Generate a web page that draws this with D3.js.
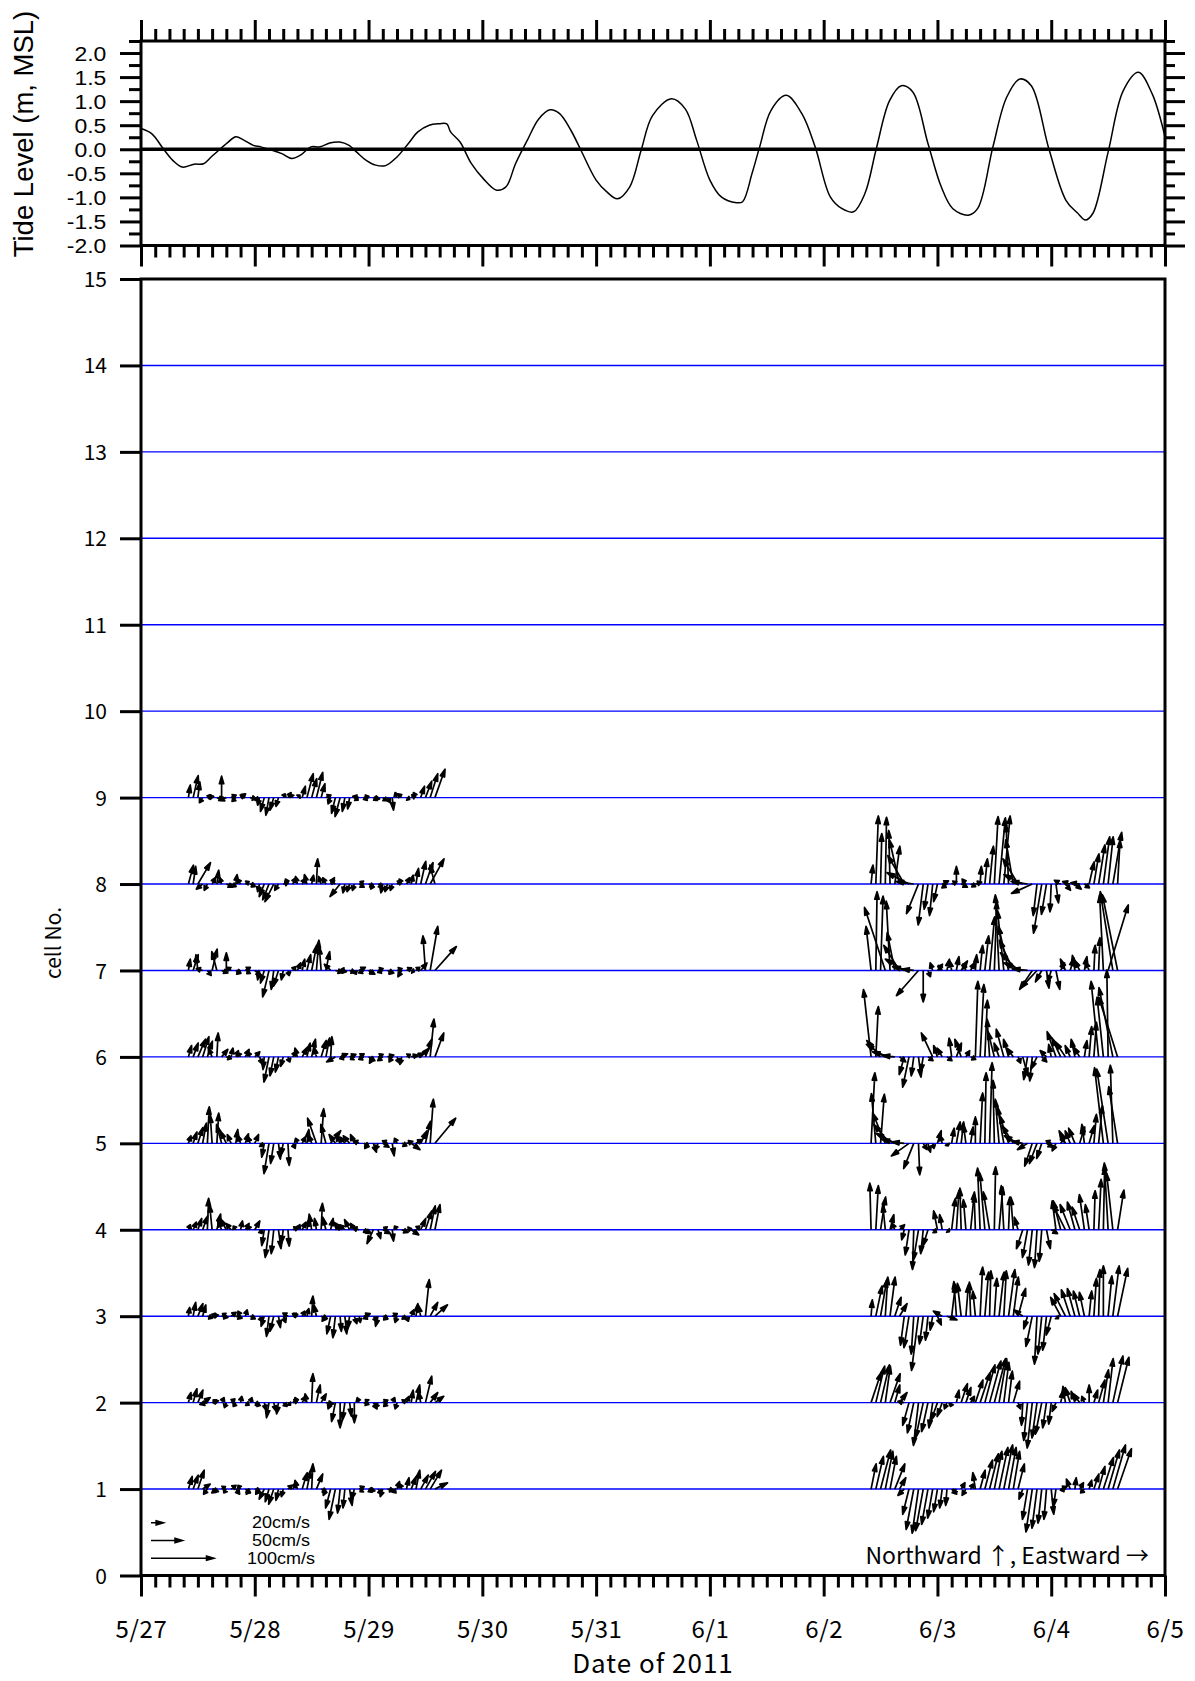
<!DOCTYPE html>
<html>
<head>
<meta charset="utf-8">
<script src="https://cdn.jsdelivr.net/npm/d3@7"></script>
<style>
  body { margin: 0; background: #fff; }
  .jp { font-family: "Noto Sans CJK JP", "Noto Sans", sans-serif; }
  .sans { font-family: "Liberation Sans", Arial, sans-serif; }
</style>
</head>
<body>
<svg id="chart" width="1195" height="1681"></svg>
<script>
// tide record: hours after 5/27 00:00 and level (m, MSL)
var tideHours = [0, 2.3, 4.7, 6.7, 8.7, 11.2, 13.2, 14.8, 16.4, 18.4, 20.0, 21.7, 23.7, 25.3, 27.3, 29.7,
  31.8, 33.8, 35.8, 37.8, 39.8, 41.9, 43.9, 45.5, 47.5, 49.5, 51.6, 54.0, 56.4, 58.4, 60.8, 62.9, 64.5,
  65.3, 67.3, 69.7, 72.2, 75.0, 77.0, 79.0, 81.5, 83.9, 86.3, 88.3, 90.7, 92.8, 96.0,
  98.2, 100.5, 103.1, 105.5, 107.9, 111.9, 114.8, 117.2, 120, 122.4, 125.6, 126.9, 128.9, 130.5, 132.9,
  136.1, 139.4, 142.2, 145.4, 147.8, 150.3, 152.7, 155.1, 157.9, 160.4, 162.8, 166.0, 168.8, 171.2,
  174.5, 176.5, 179.7, 182.6, 185.4, 187.8, 191.5, 195.1, 197.5, 199.2, 200.8, 204, 207.2, 210.4, 213.3, 216];
var tideLevels = [0.43, 0.32, 0.01, -0.23, -0.37, -0.31, -0.30, -0.16, -0.02, 0.15, 0.26, 0.19, 0.08, 0.05, -0.01, -0.09,
  -0.19, -0.11, 0.05, 0.05, 0.13, 0.15, 0.08, -0.06, -0.23, -0.33, -0.34, -0.16, 0.12, 0.36, 0.50, 0.53, 0.53,
  0.36, 0.15, -0.30, -0.61, -0.85, -0.78, -0.30, 0.19, 0.63, 0.82, 0.74, 0.39, -0.02, -0.64,
  -0.88, -1.03, -0.78, -0.02, 0.70, 1.05, 0.84, 0.19, -0.64, -0.99, -1.11, -1.09, -0.50, 0.05, 0.81,
  1.12, 0.74, 0.05, -0.99, -1.23, -1.30, -0.92, 0.01, 1.01, 1.32, 1.19, 0.12, -0.78, -1.23,
  -1.37, -1.23, 0.05, 1.08, 1.46, 1.32, 0.01, -1.06, -1.32, -1.47, -1.33, -0.06, 1.22, 1.60, 1.15, 0.26];

// hourly current vectors (cm/s), first survey from 5/27 10:00, second from 6/2 10:00
var firstStart = Date.UTC(2011, 4, 27, 10);
var secondStart = Date.UTC(2011, 5, 2, 10);

var eastA9 = [3,8,3,-5,10,-8,10,0,-10,8,-6,8,-8,10,6,-3,-6,-5,-6,-4,3,5,-3,4,5,10,8,10,6,8,-4,-6,-8,-4,-3,6,-10,8,-8,10,-7,6,4,2,-3,-6,5,6,-4,6,10,12,16];
var northA9 = [20,35,25,-8,2,3,-3,34,-5,4,-6,6,4,-2,-4,-12,-22,-28,-20,-14,6,8,5,4,18,38,30,40,22,4,-10,-25,-30,-22,-18,-4,2,2,-3,-2,-4,-5,-8,-20,8,6,-3,3,8,18,26,38,45];
var eastA8 = [8,4,20,-10,-5,5,3,-3,10,8,2,-5,6,8,-5,-3,-8,-10,-14,-6,8,-4,5,-3,4,-4,3,2,-4,-5,6,-8,-16,-3,-4,-3,8,-6,8,-4,6,-3,-4,-3,6,-4,5,3,4,8,12,22,-8];
var northA8 = [30,28,34,-8,-10,10,22,10,-5,-4,15,8,4,-3,-4,-12,-20,-25,-28,-10,2,8,10,12,8,15,14,40,12,10,10,6,-20,-14,-12,-10,-5,4,-4,-8,-4,-14,-12,-10,4,8,10,14,25,36,34,40,30];
var eastA7 = [3,8,-3,-10,6,8,-8,10,0,-6,8,-6,8,-5,10,-3,-6,-10,-4,-8,-3,2,4,5,4,6,8,4,-3,6,-10,12,10,-6,8,3,10,-8,10,-6,8,-8,10,-5,8,-6,8,5,6,10,-4,12,34];
var northA7 = [18,25,25,3,-8,34,30,-4,28,5,-4,-6,5,-5,-8,-15,-20,-42,-30,-25,-15,-8,6,12,18,25,40,48,38,30,10,-3,-2,2,-3,-6,5,-4,-6,-5,3,-3,-4,-6,3,-10,4,-2,5,12,55,70,38];
var eastA6 = [5,8,12,10,8,-6,2,10,8,3,4,-4,6,-3,8,5,-2,-8,-6,-5,-4,3,5,-4,8,5,6,-3,8,6,2,-14,12,-8,10,-6,8,-8,10,-6,8,-8,10,-5,4,-3,6,10,12,14,10,6,14];
var northA6 = [18,22,28,32,25,14,38,12,-3,14,10,6,12,8,8,-12,-20,-40,-30,-24,-15,-8,8,14,15,22,28,14,26,30,32,-8,5,-3,4,-4,5,-4,-6,-10,4,-6,3,-8,-10,-12,4,3,6,14,28,60,38];
var eastA5 = [4,6,8,6,3,-3,3,-8,-10,-6,3,-4,5,-3,6,6,-4,-8,-5,3,-4,2,4,-3,5,3,-4,-14,4,-8,16,-10,-6,-8,-10,-6,-8,8,-6,5,-4,10,-8,3,-4,8,10,14,10,10,8,5,33];
var northA5 = [12,18,25,32,58,45,48,30,20,14,22,12,15,10,14,-5,-22,-48,-32,-25,-20,-35,-8,8,10,22,12,40,55,30,20,14,12,10,12,14,4,-5,-8,-14,-10,-6,4,-20,8,-4,3,-10,6,20,35,70,40];
var eastA4 = [3,5,6,8,2,-4,6,-6,-10,-8,-4,3,6,-3,8,4,-4,-6,-4,4,-3,2,8,4,6,3,-4,-3,2,-5,4,10,-10,-8,-8,-6,-10,12,-8,-10,4,12,-6,2,-4,10,8,12,6,8,10,8,8];
var northA4 = [8,12,18,22,50,40,25,14,18,10,6,14,10,6,14,-6,-25,-44,-38,-30,-22,-26,4,8,12,16,25,18,42,20,18,6,12,8,16,10,3,-6,-4,-22,-14,-6,4,-18,6,-4,2,-8,6,18,30,38,40];
var eastA3 = [2,4,8,5,8,10,-8,10,-6,8,10,-4,3,8,-4,4,-5,-4,-6,3,4,-8,8,-8,4,3,2,-4,10,-6,-6,-4,2,3,-3,4,2,10,-8,6,-4,8,-6,8,-3,6,3,4,3,-4,6,12,20];
var northA3 = [14,22,20,18,-3,2,3,-2,4,6,-3,8,10,-4,-3,-8,-16,-32,-24,-18,-10,5,3,4,8,12,32,18,-4,-8,-28,-34,-24,-28,-20,-12,-10,4,-4,-8,-16,-4,-6,4,-10,-4,-8,10,20,18,58,22,18];
var eastA2 = [4,6,8,12,-12,10,-6,4,-3,6,-4,2,6,3,6,-4,3,-4,4,-3,6,4,8,-4,5,-3,2,6,8,12,-4,-6,0,-4,3,0,-3,8,-5,6,-4,8,-6,4,-3,6,4,3,6,-3,10,12,14];
var northA2 = [16,22,20,8,-3,3,4,8,-8,6,-6,10,-4,8,-3,-6,-12,-24,-14,-18,-6,-4,4,8,10,14,46,28,14,-2,-10,-30,-40,-28,-22,-32,8,-3,5,-10,-8,4,-6,8,-10,4,10,20,28,16,42,16,10];
var eastA1 = [6,8,10,12,-6,10,-8,6,-4,8,6,-4,8,-6,8,-6,-8,-6,-8,-4,-3,6,6,-4,8,6,2,10,8,-4,-8,-10,-4,-3,4,-4,8,-6,10,-8,6,-4,10,6,4,-3,4,8,6,12,16,18,20];
var northA1 = [20,22,30,8,-8,-4,-6,4,-6,6,-8,6,-6,-8,-3,-8,-16,-20,-24,-18,-12,6,10,14,26,30,40,24,-4,-10,-30,-48,-38,-30,-26,-16,4,-4,-3,-4,-8,-12,-3,-6,12,8,18,20,30,22,28,30,10];

var eastB8 = [3,4,2,2,-2,8,-16,-26,-35,-28,-19,-8,-6,-5,-6,10,-8,8,0,10,-6,8,10,2,4,6,6,10,10,-4,-12,-24,-30,-26,-33,-6,-13,-8,-2,4,-10,8,-12,10,-14,8,8,8,10,10,8,14,4];
var northB8 = [30,108,80,106,85,60,70,45,18,4,-47,-65,-40,-50,-28,5,-6,4,28,-5,8,-4,3,28,40,60,107,105,108,95,70,40,15,4,-15,-50,-78,-48,-44,-30,6,-10,4,-8,2,-6,35,48,62,75,75,82,70];
var eastB7 = [-8,2,4,-33,-6,-12,-25,-30,-26,-18,-35,0,4,-4,8,-6,4,-3,4,10,-5,6,2,4,6,8,4,-6,-10,-16,-22,-28,-30,-24,-20,-26,-10,4,-6,6,6,-8,6,-4,-8,4,-6,2,2,-6,32,-20,-24];
var northB7 = [70,125,118,100,110,60,40,18,6,2,-40,-50,-10,12,10,8,18,15,22,15,10,12,25,40,55,85,110,120,95,70,48,28,12,3,-30,-28,-18,-28,-20,-30,12,18,20,24,16,22,14,40,52,120,104,125,120];
var eastB6 = [-12,4,-22,-30,-28,-20,10,-8,-10,-4,4,-4,8,-18,-6,-8,8,-4,8,-10,6,8,4,6,4,-4,-10,-8,-12,-8,-10,4,8,-6,-4,-10,8,-10,-4,-14,-14,-16,-8,-6,-10,4,4,4,-12,-10,-2,-22,-30];
var northB6 = [107,80,26,20,8,2,-8,-28,-48,-30,-32,-24,-6,38,18,14,-6,30,22,28,10,-4,120,115,90,60,40,22,44,28,14,-10,-30,-36,-38,-20,-8,10,20,40,30,24,18,28,16,26,48,55,120,95,138,110,95];
var eastB5 = [6,-7,6,-20,-26,-30,-28,-20,-28,-16,2,6,4,2,6,-3,2,4,6,4,-4,4,0,4,2,4,-2,-6,-10,-14,-18,-22,-16,-16,-12,-12,-8,10,-8,-6,6,-10,-8,-10,8,-4,8,4,6,-14,-18,-4,-14];
var northB5 = [112,79,78,48,30,16,6,2,-20,-40,-50,-10,-14,-8,20,12,-4,24,34,34,30,26,42,80,112,128,100,70,58,44,28,12,3,-10,-36,-32,-24,-6,4,-12,10,20,20,24,26,30,28,46,60,120,118,124,90];
var eastB4 = [-2,4,8,-4,6,-4,8,-4,-6,-2,-8,-4,-8,6,-6,-4,4,6,4,-2,-4,6,-2,-4,-8,-10,2,6,-4,2,-4,-6,-10,-8,-6,-4,-4,6,10,-6,-12,-20,-16,-12,-12,-8,-6,2,4,2,-6,-10,10];
var northB4 = [74,70,52,40,24,10,8,-16,-40,-63,-48,-38,-26,-4,30,24,-3,50,62,66,48,60,56,98,90,60,100,68,70,52,52,20,-30,-44,-56,-60,-50,-30,-6,46,46,40,40,44,36,56,40,62,80,100,106,90,63];
var eastB3 = [2,10,10,4,8,10,12,-6,-8,-4,-11,-6,-4,-4,6,-14,16,6,-4,-6,4,-2,-4,4,6,2,4,8,4,10,8,12,-14,-6,-10,-4,-6,-6,-8,4,-16,-18,-14,-12,-10,-8,4,4,2,0,6,10,16];
var northB3 = [26,48,58,62,62,30,20,-46,-50,-60,-86,-44,-38,-22,-14,8,-6,50,55,52,50,54,40,78,70,72,60,70,72,74,62,44,10,-20,-48,-76,-60,-54,-30,-4,30,36,42,44,40,38,40,60,74,80,64,80,76];
var eastB2 = [16,14,14,8,16,8,12,-10,-10,-10,-8,-12,-10,-6,-10,-8,-4,-2,4,10,8,6,12,16,16,18,18,12,8,6,10,4,-2,-6,-8,-8,-10,-6,-4,-6,4,-4,-8,-6,-10,-4,0,6,10,8,8,16,18];
var northB2 = [48,58,60,58,46,28,16,2,-36,-48,-68,-56,-46,-40,-28,-22,-10,-6,20,30,24,10,36,48,60,66,70,70,64,50,34,-10,-36,-60,-72,-56,-50,-40,-34,-14,20,26,24,18,14,10,28,20,36,52,70,74,72];
var eastB1 = [8,12,16,12,10,16,10,-10,-10,-12,-10,-12,-10,-8,-6,-4,-2,8,-4,6,-6,4,-4,8,12,14,12,14,14,12,10,10,-6,-8,-10,-8,-6,-4,4,-4,10,-8,-6,2,6,-6,4,8,10,16,18,20,22];
var northB1 = [40,52,62,60,52,40,18,-10,-40,-64,-70,-66,-56,-46,-36,-30,-26,-8,-6,10,-10,8,26,30,46,56,60,66,70,66,60,40,-16,-48,-68,-62,-54,-48,-40,-28,4,-2,16,18,10,-6,14,24,36,50,62,70,64];

var legendSpeeds = [20, 50, 100];
var dayLabels = ['5/27', '5/28', '5/29', '5/30', '5/31', '6/1', '6/2', '6/3', '6/4', '6/5'];

var series = [
  {start: firstStart, cell: 9, east: eastA9, north: northA9},
  {start: firstStart, cell: 8, east: eastA8, north: northA8},
  {start: firstStart, cell: 7, east: eastA7, north: northA7},
  {start: firstStart, cell: 6, east: eastA6, north: northA6},
  {start: firstStart, cell: 5, east: eastA5, north: northA5},
  {start: firstStart, cell: 4, east: eastA4, north: northA4},
  {start: firstStart, cell: 3, east: eastA3, north: northA3},
  {start: firstStart, cell: 2, east: eastA2, north: northA2},
  {start: firstStart, cell: 1, east: eastA1, north: northA1},
  {start: secondStart, cell: 8, east: eastB8, north: northB8},
  {start: secondStart, cell: 7, east: eastB7, north: northB7},
  {start: secondStart, cell: 6, east: eastB6, north: northB6},
  {start: secondStart, cell: 5, east: eastB5, north: northB5},
  {start: secondStart, cell: 4, east: eastB4, north: northB4},
  {start: secondStart, cell: 3, east: eastB3, north: northB3},
  {start: secondStart, cell: 2, east: eastB2, north: northB2},
  {start: secondStart, cell: 1, east: eastB1, north: northB1}
];

var HOUR = 3600 * 1000;
var t0 = new Date(Date.UTC(2011, 4, 27));
var t1 = new Date(Date.UTC(2011, 5, 5));

var left = 141, right = 1165;
var tideTop = 41, tideBottom = 245.5;
var cellTop = 279, cellBottom = 1575.5;

var x = d3.scaleUtc().domain([t0, t1]).range([left, right]);
var yTide = d3.scaleLinear().domain([-2, 2.25]).range([tideBottom, tideTop]);
var yCell = d3.scaleLinear().domain([0, 15]).range([cellBottom, cellTop]);
var speed = d3.scaleLinear().domain([0, 100]).range([0, 63]);

var svg = d3.select('#chart');

var days = d3.utcDay.range(t0, new Date(+t1 + 1));
var threeHours = d3.utcHour.every(3).range(t0, new Date(+t1 + 1))
  .filter(function(d) { return d.getUTCHours() !== 0; });

function styleAxis(g) {
  g.select('.domain').remove();
  g.selectAll('.tick line').attr('stroke', '#000').attr('stroke-width', 3);
  return g;
}

function tickRow(axisFn, scale, values, size, at, isX) {
  var g = svg.append('g')
    .attr('transform', isX ? 'translate(0,' + at + ')' : 'translate(' + at + ',0)')
    .call(axisFn(scale).tickValues(values).tickSize(size).tickSizeOuter(0).tickFormat(''));
  return styleAxis(g);
}

// ---- tide panel ----
tickRow(d3.axisTop, x, threeHours, 12, tideTop, true);
tickRow(d3.axisTop, x, days, 21, tideTop, true);
tickRow(d3.axisBottom, x, threeHours, 12, tideBottom, true);
tickRow(d3.axisBottom, x, days, 21, tideBottom, true);

var tideMajor = d3.range(-2, 2.01, 0.5);
var tideMinor = d3.range(-1.75, 2.26, 0.5);
tickRow(d3.axisLeft, yTide, tideMinor, 12, left, false);
tickRow(d3.axisRight, yTide, tideMinor, 10, right, false);
tickRow(d3.axisRight, yTide, tideMajor, 20, right, false);

var tideLeft = svg.append('g')
  .attr('transform', 'translate(' + left + ',0)')
  .call(d3.axisLeft(yTide).tickValues(tideMajor).tickSize(21).tickSizeOuter(0).tickPadding(10)
    .tickFormat(function(d) { return d.toFixed(1); }));
styleAxis(tideLeft);
tideLeft.selectAll('.tick text')
  .attr('class', 'sans')
  .attr('font-size', 20.5)
  .attr('dy', '0.36em')
  .attr('transform', 'scale(1.12,1)')
  .attr('fill', '#000');

svg.append('path')
  .datum(tideHours)
  .attr('fill', 'none')
  .attr('stroke', '#000')
  .attr('stroke-width', 1.5)
  .attr('d', d3.line()
    .x(function(h) { return x(new Date(+t0 + h * HOUR)); })
    .y(function(h, i) { return yTide(tideLevels[i]); })
    .curve(d3.curveCatmullRom.alpha(0.5)));

svg.append('line')
  .attr('x1', left).attr('x2', right)
  .attr('y1', yTide(0)).attr('y2', yTide(0))
  .attr('stroke', '#000').attr('stroke-width', 3.5);

svg.append('rect')
  .attr('x', left).attr('y', tideTop)
  .attr('width', right - left).attr('height', tideBottom - tideTop)
  .attr('fill', 'none').attr('stroke', '#000').attr('stroke-width', 3);

svg.append('text')
  .attr('class', 'sans')
  .attr('font-size', 27.5)
  .attr('text-anchor', 'middle')
  .attr('transform', 'translate(33,134) rotate(-90)')
  .text('Tide Level (m, MSL)');

// ---- cell panel ----
var cellNums = d3.range(0, 16);

svg.append('g').selectAll('line')
  .data(d3.range(1, 15))
  .enter().append('line')
  .attr('x1', left).attr('x2', right)
  .attr('y1', function(d) { return yCell(d); })
  .attr('y2', function(d) { return yCell(d); })
  .attr('stroke', '#0000ff')
  .attr('stroke-width', 1.4);

var cellLeft = svg.append('g')
  .attr('transform', 'translate(' + left + ',0)')
  .call(d3.axisLeft(yCell).tickValues(cellNums).tickSize(21).tickSizeOuter(0).tickPadding(13)
    .tickFormat(d3.format('d')));
styleAxis(cellLeft);
cellLeft.selectAll('.tick text')
  .attr('class', 'jp')
  .attr('font-size', 21)
  .attr('dy', '0.36em')
  .attr('fill', '#000');

tickRow(d3.axisBottom, x, threeHours, 12, cellBottom, true);
var dateAxis = svg.append('g')
  .attr('transform', 'translate(0,' + cellBottom + ')')
  .call(d3.axisBottom(x).tickValues(days).tickSize(21).tickSizeOuter(0).tickPadding(24)
    .tickFormat(function(d, i) { return dayLabels[i]; }));
styleAxis(dateAxis);
dateAxis.selectAll('.tick text')
  .attr('class', 'jp')
  .attr('font-size', 24)
  .attr('letter-spacing', 0.6)
  .attr('fill', '#000');

svg.append('rect')
  .attr('x', left).attr('y', cellTop)
  .attr('width', right - left).attr('height', cellBottom - cellTop)
  .attr('fill', 'none').attr('stroke', '#000').attr('stroke-width', 3);

svg.append('text')
  .attr('class', 'jp')
  .attr('font-size', 21)
  .attr('text-anchor', 'middle')
  .attr('transform', 'translate(61,943) rotate(-90)')
  .text('cell No.');

svg.append('text')
  .attr('class', 'jp')
  .attr('font-size', 26)
  .attr('letter-spacing', 1)
  .attr('text-anchor', 'middle')
  .attr('x', 653).attr('y', 1673)
  .text('Date of 2011');

// ---- current vectors ----
function arrowPath(x1, y1, x2, y2) {
  var dx = x2 - x1, dy = y2 - y1;
  var len = Math.sqrt(dx * dx + dy * dy);
  if (len < 0.5) return '';
  var ux = dx / len, uy = dy / len;
  var head = Math.min(7.5, len * 0.6), half = 2.2;
  var bx = x2 - ux * head, by = y2 - uy * head;
  return 'M' + x1 + ',' + y1 + 'L' + bx + ',' + by +
    'M' + x2 + ',' + y2 +
    'L' + (bx - uy * half) + ',' + (by + ux * half) +
    'L' + (bx + uy * half) + ',' + (by - ux * half) + 'Z';
}

var vectors = [];
series.forEach(function(s) {
  s.east.forEach(function(u, i) {
    vectors.push({time: new Date(s.start + i * HOUR), cell: s.cell, u: u, v: s.north[i]});
  });
});

svg.append('g').selectAll('path')
  .data(vectors)
  .enter().append('path')
  .attr('fill', '#000')
  .attr('stroke', '#000')
  .attr('stroke-width', 1.7)
  .attr('stroke-linejoin', 'round')
  .attr('d', function(d) {
    var bx = x(d.time), by = yCell(d.cell);
    return arrowPath(bx, by, bx + speed(d.u), by - speed(d.v));
  });

// ---- legend ----
var legendX = 151;
var legendY = d3.scaleBand().domain(legendSpeeds).range([1514, 1567]);

var legend = svg.append('g');
legend.selectAll('path')
  .data(legendSpeeds)
  .enter().append('path')
  .attr('fill', '#000').attr('stroke', '#000').attr('stroke-width', 1.5)
  .attr('d', function(d) {
    var yy = legendY(d) + legendY.bandwidth() / 2;
    return arrowPath(legendX, yy, legendX + speed(d), yy);
  });
legend.selectAll('text')
  .data(legendSpeeds)
  .enter().append('text')
  .attr('class', 'sans')
  .attr('font-size', 15)
  .attr('text-anchor', 'middle')
  .attr('transform', function(d) {
    var yy = legendY(d) + legendY.bandwidth() / 2 + 5.5;
    return 'translate(281,' + yy + ') scale(1.2,1.1)';
  })
  .text(function(d) { return d + 'cm/s'; });

svg.append('text')
  .attr('class', 'jp')
  .attr('font-size', 23)
  .attr('text-anchor', 'end')
  .attr('x', 1149).attr('y', 1564)
  .text('Northward ↑, Eastward →');
</script>
</body>
</html>
